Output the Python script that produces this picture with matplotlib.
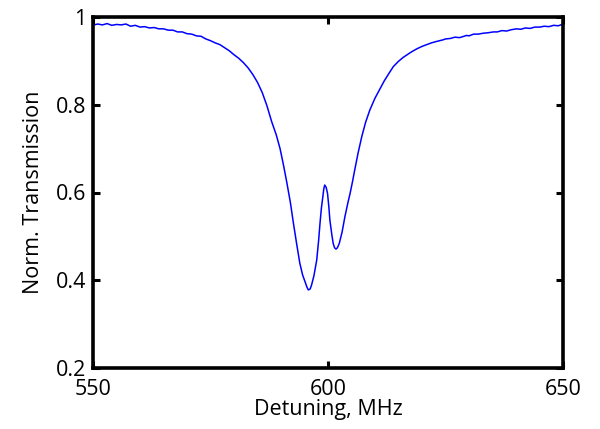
import matplotlib
matplotlib.use("Agg")
import matplotlib.pyplot as plt

# values
detuning = [550.2, 551.0, 552.0, 553.0, 554.0, 555.0, 556.0, 557.0, 558.0, 559.0,
            560.0, 561.0, 562.0, 563.0, 564.0, 565.0, 566.0, 567.0, 568.0, 569.0,
            570.0, 571.0, 572.0, 573.0, 574.0, 575.0, 576.0, 577.0, 578.0, 579.0,
            580.0, 581.0, 582.0, 583.0, 584.0, 585.0, 586.0, 587.0, 588.0, 589.0,
            589.8, 590.5, 591.2, 592.0, 592.6, 593.3, 594.0, 594.6, 595.1, 595.5,
            595.8, 596.2, 596.5, 597.0, 597.6, 598.0, 598.3, 598.6, 598.9, 599.1,
            599.3, 599.6, 599.9, 600.2, 600.4, 600.8, 601.1, 601.4, 601.7, 602.0,
            602.4, 603.0, 603.6, 604.2, 604.7, 605.2, 605.7, 606.4, 607.2, 608.0,
            608.9, 610.0, 611.1, 612.0, 613.0, 613.9, 615.0, 616.0, 617.4, 618.0,
            619.0, 620.0, 621.0, 622.0, 623.0, 624.5, 625.0, 626.0, 627.0, 628.0,
            629.5, 630.0, 631.0, 632.0, 633.0, 634.0, 635.2, 636.0, 637.0, 638.0,
            639.0, 640.1, 641.0, 642.0, 643.0, 644.0, 645.1, 646.0, 647.0, 648.0,
            649.0, 649.8]
transmission = [0.982, 0.984, 0.982, 0.985, 0.981, 0.983, 0.982, 0.984, 0.979, 0.981,
                0.977, 0.978, 0.975, 0.976, 0.973, 0.973, 0.970, 0.970, 0.966, 0.966,
                0.962, 0.961, 0.957, 0.956, 0.950, 0.946, 0.941, 0.937, 0.930, 0.923,
                0.914, 0.906, 0.896, 0.884, 0.869, 0.851, 0.828, 0.798, 0.762, 0.731,
                0.700, 0.664, 0.625, 0.577, 0.533, 0.485, 0.439, 0.412, 0.397, 0.385,
                0.378, 0.380, 0.389, 0.410, 0.446, 0.490, 0.530, 0.565, 0.590, 0.608,
                0.617, 0.612, 0.598, 0.565, 0.537, 0.505, 0.484, 0.474, 0.471, 0.474,
                0.484, 0.510, 0.545, 0.575, 0.598, 0.624, 0.652, 0.690, 0.728, 0.760,
                0.788, 0.815, 0.837, 0.855, 0.872, 0.887, 0.899, 0.908, 0.918, 0.922,
                0.928, 0.933, 0.937, 0.941, 0.944, 0.948, 0.950, 0.951, 0.954, 0.953,
                0.958, 0.957, 0.961, 0.961, 0.963, 0.964, 0.966, 0.966, 0.969, 0.968,
                0.971, 0.973, 0.972, 0.975, 0.974, 0.977, 0.977, 0.979, 0.978, 0.981,
                0.980, 0.983]

x_ticks = [550, 600, 650]
y_ticks = [0.2, 0.4, 0.6, 0.8, 1.0]
y_labels = ["0.2", "0.4", "0.6", "0.8", "1"]

plt.rcParams['font.family'] = ['Open Sans', 'DejaVu Sans']

fig = plt.figure(figsize=(6, 4.29), dpi=100)
ax = fig.add_axes([93 / 600, 1 - 368 / 429, 470 / 600, 351 / 429])

ax.plot(detuning, transmission, color='#0000ff', linewidth=1.1)

ax.set_xlim(550, 650)
ax.set_ylim(0.2, 1.0)
ax.set_xticks(x_ticks)
ax.set_xticklabels([str(t) for t in x_ticks])
ax.set_yticks(y_ticks)
ax.set_yticklabels(y_labels)

for s in ax.spines.values():
    s.set_linewidth(2.6)
    s.set_color('black')

ax.tick_params(direction='in', length=5, width=2.2, top=True, right=True,
               labelsize=15.5)
ax.tick_params(axis='x', pad=8)
ax.tick_params(axis='y', pad=5)

ax.set_xlabel('Detuning, MHz', fontsize=15.5, labelpad=-1)
ax.set_ylabel('Norm. Transmission', fontsize=15.5, labelpad=8)

fig.savefig('out.png', dpi=100)
